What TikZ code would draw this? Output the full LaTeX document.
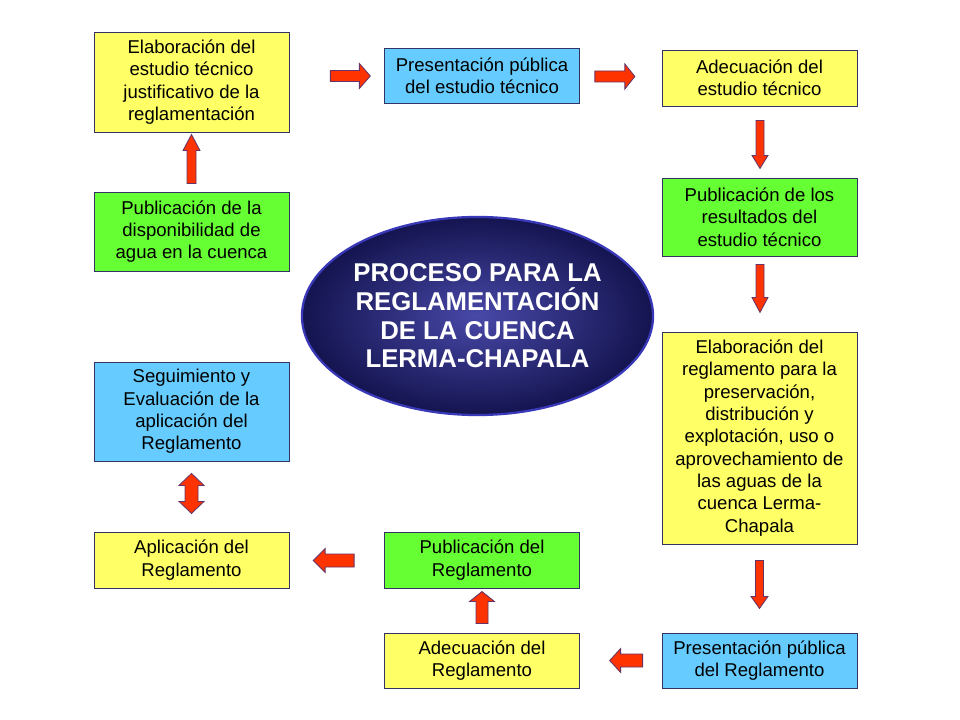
\documentclass[tikz,border=0pt]{standalone}
\usepackage{fontspec}
\setmainfont{Liberation Sans}
\usetikzlibrary{shapes.geometric,calc}
\definecolor{boxyellow}{HTML}{FFFF66}
\definecolor{boxblue}{HTML}{66CCFF}
\definecolor{boxgreen}{HTML}{66FF33}
\definecolor{boxline}{HTML}{333366}
\definecolor{arrowred}{HTML}{FF3300}
\definecolor{arrowline}{HTML}{663366}
\definecolor{ovalin}{HTML}{4848A8}
\definecolor{ovalout}{HTML}{141450}
\definecolor{ovalline}{HTML}{3838B8}
% centre, angle, length, shaft, head, tip
\newcommand{\blockarrow}[6]{%
  \draw[barrow,shift={#1},rotate=#2] (-#3/2,-#4/2) -- (#3/2-#6,-#4/2) -- (#3/2-#6,-#5/2) -- (#3/2,0)
    -- (#3/2-#6,#5/2) -- (#3/2-#6,#4/2) -- (-#3/2,#4/2) -- cycle;}
\newcommand{\twinarrow}[6]{%
  \draw[barrow,shift={#1},rotate=#2] (-#3/2,0) -- (-#3/2+#6,-#5/2) -- (-#3/2+#6,-#4/2) -- (#3/2-#6,-#4/2)
    -- (#3/2-#6,-#5/2) -- (#3/2,0) -- (#3/2-#6,#5/2) -- (#3/2-#6,#4/2) -- (-#3/2+#6,#4/2)
    -- (-#3/2+#6,#5/2) -- cycle;}
\begin{document}
\begin{tikzpicture}[x=0.025cm,y=-0.025cm,line join=miter,
    box/.style={draw=boxline,line width=0.6pt,minimum width=4.87cm,inner sep=0pt,align=center,
      font=\fontsize{13.2}{15.9}\selectfont},
    barrow/.style={draw=arrowline,fill=arrowred,line width=0.6pt},
    oval/.style={ellipse,draw=ovalline,line width=1.6pt,inner color=ovalin,outer color=ovalout,
      minimum width=8.675cm,minimum height=4.95cm,inner sep=0pt,align=center,text=white,
      font=\bfseries\fontsize{18.3}{20.4}\selectfont}]
\useasboundingbox (0,0) rectangle (960,720);
\fill[white] (0,0) rectangle (960,720);
\node[box,fill=boxyellow,minimum height=2.5cm] (elabest) at (191.5,82)
  {Elaboración del\\estudio técnico\\justificativo de la\\reglamentación};
\node[box,fill=boxblue,minimum height=1.375cm] (presest) at (482,75.5)
  {Presentación pública\\del estudio técnico};
\node[box,fill=boxyellow,minimum height=1.4cm] (adecest) at (759.5,78)
  {Adecuación del\\estudio técnico};
\node[box,fill=boxgreen,minimum height=1.95cm] (pubres) at (759.5,217)
  {Publicación de los\\resultados del\\estudio técnico};
\node[box,fill=boxyellow,minimum height=5.3cm] (elabreg) at (759.5,438)
  {Elaboración del\\reglamento para la\\preservación,\\distribución y\\explotación, uso o\\aprovechamiento de\\las aguas de la\\cuenca Lerma-\\Chapala};
\node[box,fill=boxblue,minimum height=1.375cm] (presreg) at (759.5,660.5)
  {Presentación pública\\del Reglamento};
\node[box,fill=boxyellow,minimum height=1.375cm] (adecreg) at (482,660.5)
  {Adecuación del\\Reglamento};
\node[box,fill=boxgreen,minimum height=1.4cm] (pubreg) at (482,560)
  {Publicación del\\Reglamento};
\node[box,fill=boxyellow,minimum height=1.4cm] (aplreg) at (191.5,560)
  {Aplicación del\\Reglamento};
\node[box,fill=boxblue,minimum height=2.475cm] (seguim) at (191.5,411.5)
  {Seguimiento y\\Evaluación de la\\aplicación del\\Reglamento};
\node[box,fill=boxgreen,minimum height=1.975cm] (pubdisp) at (191.5,231.5)
  {Publicación de la\\disponibilidad de\\agua en la cuenca};
\node[oval] (titulo) at (477.5,316)
  {PROCESO PARA LA\\REGLAMENTACIÓN\\DE LA CUENCA\\LERMA-CHAPALA};
\blockarrow{($(elabest.east)+(61,-6)$)}{0}{40}{11}{25}{11}
\blockarrow{($(presest.east)+(35,1)$)}{0}{40}{11}{25}{10}
\blockarrow{($(adecest.south)+(0.5,38)$)}{-90}{48}{8}{16}{13}
\blockarrow{($(pubres.south)+(0.5,32)$)}{-90}{48}{8}{16}{15}
\blockarrow{($(elabreg.south)+(0,40)$)}{-90}{48}{8}{17}{12}
\blockarrow{($(presreg.west)+(-35.5,0)$)}{180}{33}{13}{24}{11}
\blockarrow{($(adecreg.north)+(0,-25)$)}{90}{32}{12}{25}{10}
\blockarrow{($(pubreg.west)+(-50.5,0.5)$)}{180}{41}{13}{24}{12}
\twinarrow{($(seguim.south)+(0,32)$)}{90}{40}{13}{25}{12}
\blockarrow{($(pubdisp.north)+(0,-32.5)$)}{90}{49}{9}{17}{16}
\end{tikzpicture}
\end{document}
